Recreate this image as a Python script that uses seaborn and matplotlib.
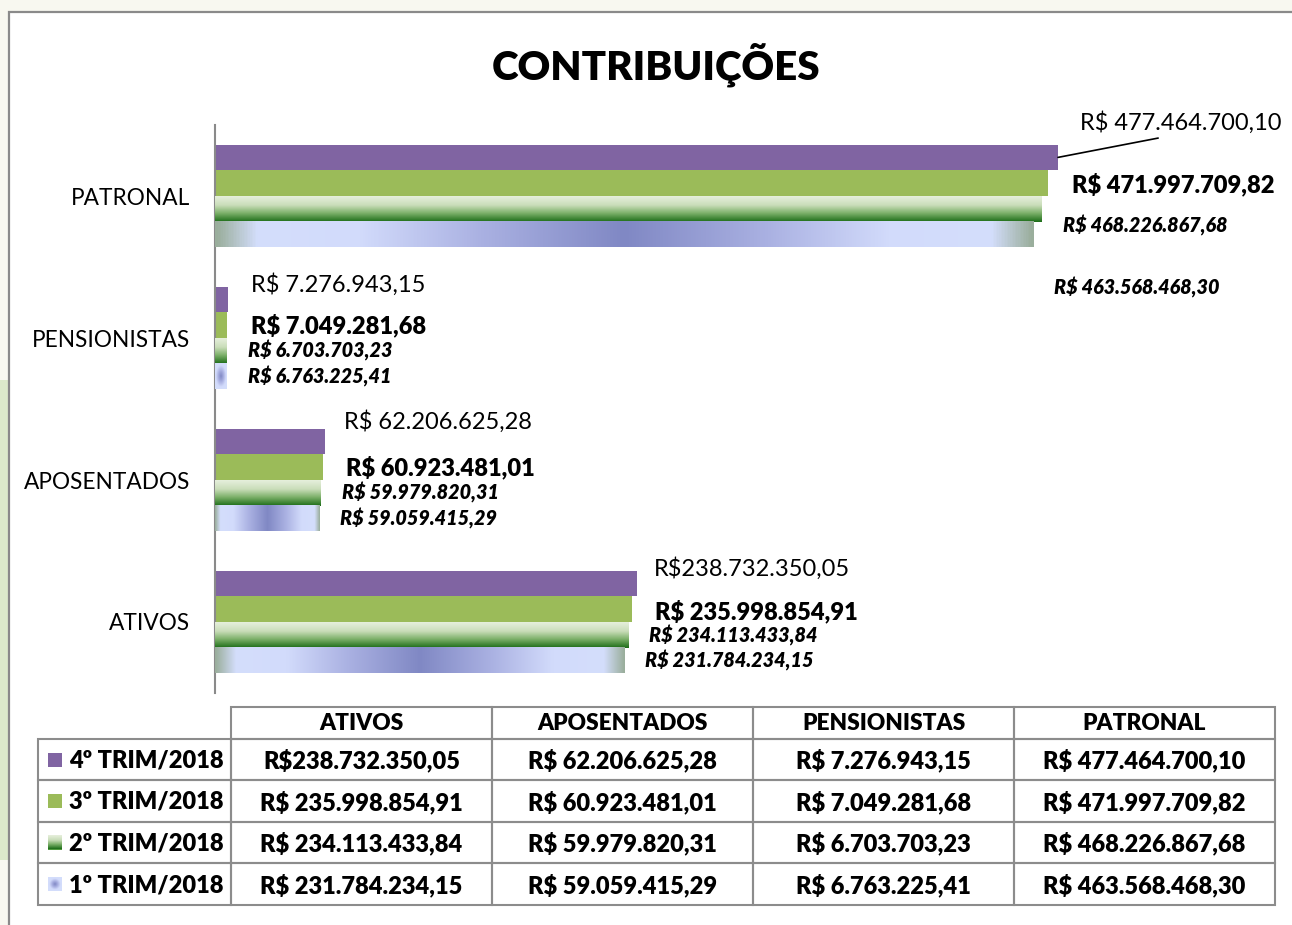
import numpy as np
import pandas as pd
import seaborn as sns
import matplotlib.pyplot as plt
from matplotlib.patches import Rectangle
from matplotlib.colors import LinearSegmentedColormap

# Dados
categorias = ['PATRONAL', 'PENSIONISTAS', 'APOSENTADOS', 'ATIVOS']
trimestres = ['4º TRIM/2018', '3º TRIM/2018', '2º TRIM/2018', '1º TRIM/2018']
tri_4 = [477464700.10, 7276943.15, 62206625.28, 238732350.05]
tri_3 = [471997709.82, 7049281.68, 60923481.01, 235998854.91]
tri_2 = [468226867.68, 6703703.23, 59979820.31, 234113433.84]
tri_1 = [463568468.30, 6763225.41, 59059415.29, 231784234.15]
colunas_tabela = ['ATIVOS', 'APOSENTADOS', 'PENSIONISTAS', 'PATRONAL']

valores = [tri_4, tri_3, tri_2, tri_1]
df = pd.DataFrame([
    {'categoria': c, 'trimestre': t, 'valor': v}
    for t, serie in zip(trimestres, valores)
    for c, v in zip(categorias, serie)
])


def brl(v, espaco=True):
    s = f'{v:,.2f}'.replace(',', 'X').replace('.', ',').replace('X', '.')
    return ('R$ ' if espaco else 'R$') + s


# ATIVOS do 4º trimestre aparece sem espaço no original
sem_espaco = {('4º TRIM/2018', 'ATIVOS')}

FONT = 'Lato'
W, H = 1292, 925
fig = plt.figure(figsize=(W / 100, H / 100), dpi=100, facecolor='#f8f8f0')

# fundo / moldura
bg = fig.add_axes([0, 0, 1, 1], zorder=0)
bg.set_xlim(0, W)
bg.set_ylim(H, 0)
bg.axis('off')
bg.add_patch(Rectangle((0, 380), 8, 480, facecolor='#dceacb', edgecolor='none'))
bg.add_patch(Rectangle((9, 12), W, H, facecolor='white', edgecolor='#8a8a8a', lw=1.6))

# grafico de barras
ax = fig.add_axes([215 / W, 1 - 693 / H, (W - 215) / W, (693 - 125) / H], zorder=1)
ax.set_facecolor('none')
cores = ['#8064a2', '#9bbb59', '#4f9a3e', '#d4defc']
sns.barplot(data=df, y='categoria', x='valor', hue='trimestre', order=categorias,
            hue_order=trimestres, palette=cores, width=0.725, gap=0, saturation=1,
            legend=False, ax=ax, orient='h')

grad_verde = LinearSegmentedColormap.from_list(
    'verde', [(0, '#e6efdc'), (0.35, '#c9ddb9'), (0.65, '#7fb26c'), (1, '#1d6d18')])
grad_azul = LinearSegmentedColormap.from_list(
    'azul', [(0, '#8088c4'), (0.35, '#aab1e2'), (0.65, '#d2dbfb'), (0.9, '#d4defc'), (1, '#9aae9c')])

for patch in ax.containers[2]:
    x0, y0, w, h = patch.get_x(), patch.get_y(), patch.get_width(), patch.get_height()
    img = np.linspace(0, 1, 64)[:, None]
    ax.imshow(img, cmap=grad_verde, extent=(x0, x0 + w, y0 + h, y0), origin='upper',
              aspect='auto', zorder=3, interpolation='bilinear')

for patch in ax.containers[3]:
    x0, y0, w, h = patch.get_x(), patch.get_y(), patch.get_width(), patch.get_height()
    if w > 0.05 * 477464700.10:
        img = np.abs(np.linspace(-1, 1, 256))[None, :]
    else:
        # barra curta: mancha escura no centro
        yy, xx = np.mgrid[-1:1:32j, -1:1:64j]
        img = np.clip(np.sqrt(xx ** 2 + yy ** 2) * 0.75, 0, 0.85)
    ax.imshow(img, cmap=grad_azul, extent=(x0, x0 + w, y0 + h, y0), origin='upper',
              aspect='auto', zorder=3, interpolation='bilinear', vmin=0, vmax=1)

# rotulos de dados
dx = {'4º TRIM/2018': [22, 23, 19, 17.5], '3º TRIM/2018': [23.5] * 4,
      '2º TRIM/2018': [21] * 4, '1º TRIM/2018': [21] * 4}
dy = {'4º TRIM/2018': [-35, -14.5, -20, -14.5], '3º TRIM/2018': [1, 0, 0, 2],
      '2º TRIM/2018': [16.5, 0, 0, 1], '1º TRIM/2018': [53, 0, 0, 0]}
estilo = {'4º TRIM/2018': dict(fontsize=17, fontweight='normal', fontstyle='normal'),
          '3º TRIM/2018': dict(fontsize=17, fontweight='heavy', fontstyle='normal'),
          '2º TRIM/2018': dict(fontsize=14.2, fontweight='heavy', fontstyle='italic'),
          '1º TRIM/2018': dict(fontsize=14.2, fontweight='heavy', fontstyle='italic')}

for t, cont in zip(trimestres, ax.containers):
    for i, (c, patch) in enumerate(zip(categorias, cont)):
        v = patch.get_width()
        yc = patch.get_y() + patch.get_height() / 2
        txt = brl(v, (t, c) not in sem_espaco)
        kw = {}
        if t == '4º TRIM/2018' and c == 'PATRONAL':
            kw['arrowprops'] = dict(arrowstyle='-', color='black', lw=1.2,
                                    shrinkA=6, shrinkB=0, relpos=(0.5, 0))
        ax.annotate(txt, xy=(v, yc), xytext=(dx[t][i], -dy[t][i]),
                    textcoords='offset pixels', ha='left', va='center',
                    family=FONT, color='black', annotation_clip=False, **estilo[t], **kw)

ax.set_xlim(0, 477464700.10 * (W - 215) / 843)
ax.set_ylim(3.5, -0.5)
ax.set_xlabel('')
ax.set_ylabel('')
ax.set_xticks([])
for s in ['top', 'right', 'bottom']:
    ax.spines[s].set_visible(False)
ax.spines['left'].set_color('#8a8a8a')
ax.spines['left'].set_linewidth(1.5)
ax.tick_params(axis='y', length=0, pad=18)
for lab in ax.get_yticklabels():
    lab.set_fontfamily(FONT)
    lab.set_fontsize(16.3)

# titulo e tabela
ov = fig.add_axes([0, 0, 1, 1], zorder=2)
ov.set_facecolor('none')
ov.set_xlim(0, W)
ov.set_ylim(H, 0)
ov.axis('off')
ov.text(656, 65, 'CONTRIBUIÇÕES', ha='center', va='center', family=FONT,
        fontsize=29, fontweight='heavy')

xs = [231, 492, 753, 1014, 1275]
ys = [707, 739, 780, 822, 863, 905]
borda = dict(facecolor='none', edgecolor='#8c8c8c', lw=1.5)
for j in range(4):
    ov.add_patch(Rectangle((xs[j], ys[0]), xs[j + 1] - xs[j], ys[1] - ys[0], **borda))
    ov.text((xs[j] + xs[j + 1]) / 2, (ys[0] + ys[1]) / 2 + 1, colunas_tabela[j],
            ha='center', va='center', family=FONT, fontsize=16.3, fontweight='heavy')

for r, (t, serie) in enumerate(zip(trimestres, valores)):
    y0, y1 = ys[r + 1], ys[r + 2]
    ym = (y0 + y1) / 2
    ov.add_patch(Rectangle((38, y0), xs[0] - 38, y1 - y0, **borda))
    ov.add_patch(Rectangle((48, ym - 7), 14, 14, facecolor=cores[r], edgecolor='none'))
    ov.text(69, ym + 1, t, ha='left', va='center', family=FONT, fontsize=17,
            fontweight='heavy')
    por_cat = dict(zip(categorias, serie))
    for j, c in enumerate(colunas_tabela):
        ov.add_patch(Rectangle((xs[j], y0), xs[j + 1] - xs[j], y1 - y0, **borda))
        ov.text((xs[j] + xs[j + 1]) / 2, ym + 1, brl(por_cat[c], (t, c) not in sem_espaco),
                ha='center', va='center', family=FONT, fontsize=17, fontweight='heavy')

# gradientes nas chaves da legenda
ov.imshow(np.linspace(0, 1, 32)[:, None], cmap=grad_verde,
          extent=(48, 62, ys[3] + 20.5 + 7, ys[3] + 20.5 - 7), aspect='auto',
          zorder=4, origin='upper')
yy, xx = np.mgrid[-1:1:32j, -1:1:32j]
ov.imshow(np.clip(np.sqrt(xx ** 2 + yy ** 2) * 0.8, 0, 0.85), cmap=grad_azul,
          extent=(48, 62, ys[4] + 21 + 7, ys[4] + 21 - 7), aspect='auto',
          zorder=4, origin='upper', vmin=0, vmax=1)
ov.set_xlim(0, W)
ov.set_ylim(H, 0)

fig.savefig('out.png', dpi=100, facecolor=fig.get_facecolor())
